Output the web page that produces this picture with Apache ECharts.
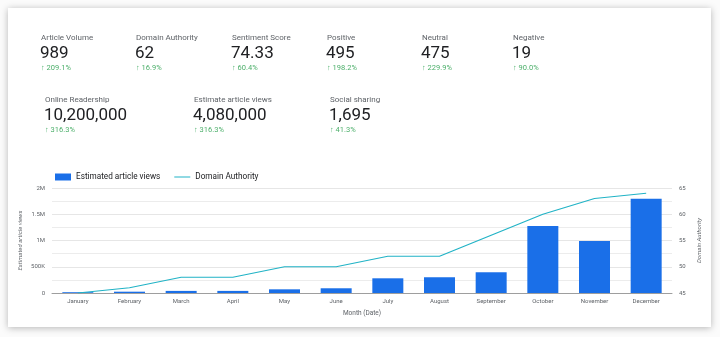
<!DOCTYPE html>
<html><head><meta charset="utf-8">
<script src="https://cdn.jsdelivr.net/npm/echarts@6/dist/echarts.min.js"></script>
<style>html,body{margin:0;padding:0;background:#fbfbfb;}#c{width:720px;height:337px;}</style>
</head><body><div id="c"></div>
<script>
const months = ['January','February','March','April','May','June','July','August','September','October','November','December'];
const articleViews = [15000, 25000, 40000, 40000, 70000, 90000, 280000, 300000, 395000, 1275000, 990000, 1795000];
const domainAuthority = [45, 46, 48, 48, 50, 50, 52, 52, 56, 60, 63, 64];
const kpiLabels = ['Article Volume','Domain Authority','Sentiment Score','Positive','Neutral','Negative','Online Readership','Estimate article views','Social sharing'];
const kpiValues = ['989','62','74.33','495','475','19','10,200,000','4,080,000','1,695'];
const kpiChanges = ['209.1%','16.9%','60.4%','198.2%','229.9%','90.0%','316.3%','316.3%','41.3%'];
const leftTicks = ['0','500K','1M','1.5M','2M'];

const kpiX = [41,136,232,327,422,513,45,194,330];
const kpiRowY = [39,101];
const FONT = 'Roboto';
const graphics = [{
  type:'rect', shape:{x:8,y:8,width:703,height:319}, z:-10,
  style:{fill:'#ffffff', shadowBlur:7, shadowColor:'rgba(0,0,0,0.28)', shadowOffsetY:1}
}];
kpiLabels.forEach((l,i)=>{
  const x = kpiX[i], y = kpiRowY[i<6?0:1];
  graphics.push({type:'text', left:x, top:y-5, style:{text:l, font:'8px '+FONT, fill:'#5f6368'}});
  graphics.push({type:'text', left:x-1, top:y+6, style:{text:kpiValues[i], font:'17px '+FONT, fill:'#202124'}});
  graphics.push({type:'text', left:x, top:y+25, style:{text:'↑ '+kpiChanges[i], font:'7.5px '+FONT, fill:'#4caf6a'}});
});

const chart = echarts.init(document.getElementById('c'), null, {renderer:'canvas'});
chart.setOption({
  animation:false,
  textStyle:{fontFamily:FONT},
  graphic: graphics,
  legend:{
    left:50, top:168, itemWidth:16, itemHeight:7, itemGap:14,
    textStyle:{fontSize:8.2, color:'#202124', fontFamily:FONT},
    data:[{name:'Estimated article views', icon:'rect'},{name:'Domain Authority', icon:'path://M0,0 L16,0 L16,1 L0,1 Z', itemStyle:{color:'#21b3c6'}}]
  },
  grid:{left:52, right:48, top:188, bottom:44},
  xAxis:{
    type:'category', data:months,
    name:'Month (Date)', nameLocation:'middle', nameGap:17,
    nameTextStyle:{fontSize:6.5, color:'#5f6368'},
    axisLine:{lineStyle:{color:'#9e9e9e'}}, axisTick:{show:false},
    axisLabel:{fontSize:6, color:'#5f6368', margin:5}
  },
  yAxis:[{
    type:'value', min:0, max:2000000, interval:500000,
    name:'Estimated article views', nameLocation:'middle', nameGap:29, nameMoveOverlap:false,
    nameTextStyle:{fontSize:6, color:'#5f6368', fontStyle:'italic'},
    axisLabel:{fontSize:6, color:'#5f6368', margin:7, formatter:(v)=>leftTicks[Math.round(v/500000)]},
    splitLine:{lineStyle:{color:'#e6e6e6'}},
    minorTick:{show:false, splitNumber:2},
    minorSplitLine:{show:true, lineStyle:{color:'#ececec'}}
  },{
    type:'value', min:45, max:65, interval:5,
    name:'Domain Authority', nameLocation:'middle', nameGap:24, nameMoveOverlap:false,
    nameTextStyle:{fontSize:6, color:'#5f6368', fontStyle:'italic'},
    axisLabel:{fontSize:6, color:'#5f6368', margin:7},
    splitLine:{show:false}
  }],
  series:[{
    name:'Estimated article views', type:'bar', data:articleViews, barWidth:'60%',
    itemStyle:{color:'#1a6fe8'}
  },{
    name:'Domain Authority', type:'line', yAxisIndex:1, data:domainAuthority,
    symbol:'none', lineStyle:{color:'#21b3c6', width:1.2}, itemStyle:{color:'#21b3c6'}
  }]
});
</script></body></html>
